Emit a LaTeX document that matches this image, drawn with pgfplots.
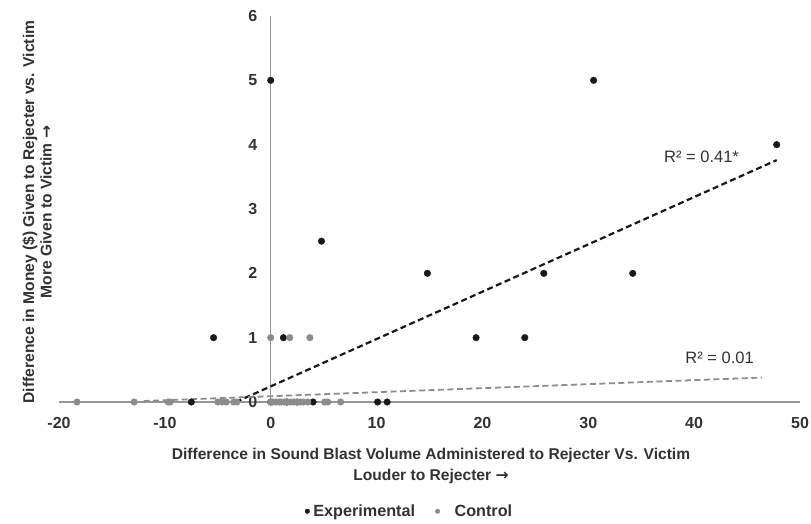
\documentclass[border=0pt]{standalone}
\usepackage{pgfplots}
\pgfplotsset{compat=1.18}
\usepackage{fontspec}
\setmainfont{Liberation Sans}
\newfontfamily\arrowfont{DejaVu Sans}
\definecolor{expc}{RGB}{25,25,25}
\definecolor{ctrlc}{RGB}{140,140,140}
\definecolor{axc}{RGB}{150,150,150}
\definecolor{txtc}{RGB}{50,50,50}
\newcommand{\rarr}{{\arrowfont\bfseries →}}
\begin{document}
\begin{tikzpicture}[x=1pt,y=1pt]
\path[use as bounding box] (0,0) rectangle (811,523);
\begin{axis}[
  at={(59pt,121pt)}, anchor=south west,
  scale only axis, width=741pt, height=386pt,
  xmin=-20, xmax=50, ymin=0, ymax=6,
  axis lines=middle,
  axis line style={-, draw=axc, line width=1.3pt},
  every inner x axis line/.append style={-},
  every inner y axis line/.append style={-},
  xtick={-20,-10,0,10,20,30,40,50},
  ytick={0,1,2,3,4,5,6},
  hide obscured x ticks=false, hide obscured y ticks=false,
  major tick length=0pt,
  /pgf/number format/assume math mode=true,
  x tick label style={font=\bfseries\fontsize{16}{16}\selectfont, text=txtc, yshift=-12pt},
  y tick label style={font=\bfseries\fontsize{16}{16}\selectfont, text=txtc, xshift=-10pt},
  clip=false,
  legend style={at={(0.473,-0.283)}, anchor=center, draw=none, fill=none,
    legend columns=2, font=\bfseries\fontsize{16.2}{16.2}\selectfont, text=txtc,
    inner sep=0pt,
    /tikz/every even column/.append style={column sep=18pt}},
  legend cell align=left,
]
\addplot[only marks, mark=*, mark size=3.3pt, color=expc,
  legend image code/.code={\path[draw=none,fill=none] (-2.3pt,0) -- (4pt,0);\fill[expc] (0pt,0pt) circle (2.3pt);}] coordinates {
(0,5) (30.5,5) (47.8,4) (4.8,2.5) (14.8,2) (25.8,2) (34.2,2)
(19.4,1) (24.0,1) (-5.4,1) (1.2,1)
(-7.5,0) (4.0,0) (10.1,0) (11.0,0) (0,0) (1.5,0) (2.5,0)
};
\addlegendentry{Experimental}
\addplot[only marks, mark=*, mark size=3.3pt, color=ctrlc,
  legend image code/.code={\path[draw=none,fill=none] (-2.3pt,0) -- (15pt,0);\fill[ctrlc] (0pt,0pt) circle (2.3pt);}] coordinates {
(0,1) (1.8,1) (3.7,1)
(-18.3,0) (-12.9,0) (-9.7,0) (-9.5,0) (-5.0,0) (-4.6,0) (-4.2,0) (-3.5,0) (-3.2,0)
(0,0) (0.2,0) (0.5,0) (0.8,0) (1.0,0) (1.3,0) (1.6,0) (1.9,0) (2.2,0) (2.5,0)
(2.8,0) (3.1,0) (3.5,0) (5.1,0) (5.4,0) (6.6,0)
};
\addlegendentry{Control}
\addplot[expc, line width=2.2pt, dash pattern=on 6pt off 3.5pt, forget plot] coordinates {(-3.3,0) (47.8,3.76)};
\addplot[ctrlc, line width=1.8pt, dash pattern=on 6pt off 3.5pt, forget plot] coordinates {(-12,0.015) (46.4,0.38)};
\node[font=\fontsize{16.5}{16.5}\selectfont, text=txtc] at (axis cs:40.7,3.81) {R² = 0.41*};
\node[font=\fontsize{16.5}{16.5}\selectfont, text=txtc] at (axis cs:42.4,0.68) {R² = 0.01};
\end{axis}
\node[font=\bfseries\fontsize{15.6}{15.6}\selectfont, text=txtc] at (431,68) {Difference in Sound Blast Volume Administered to Rejecter Vs. Victim};
\node[font=\bfseries\fontsize{15.6}{15.6}\selectfont, text=txtc] at (431,47) {Louder to Rejecter \rarr};
\node[rotate=90, font=\bfseries\fontsize{15.6}{15.6}\selectfont, text=txtc] at (30,311) {Difference in Money (\$) Given to Rejecter vs. Victim};
\node[rotate=90, font=\bfseries\fontsize{15.6}{15.6}\selectfont, text=txtc] at (46,311) {More Given to Victim \rarr};
\end{tikzpicture}
\end{document}
